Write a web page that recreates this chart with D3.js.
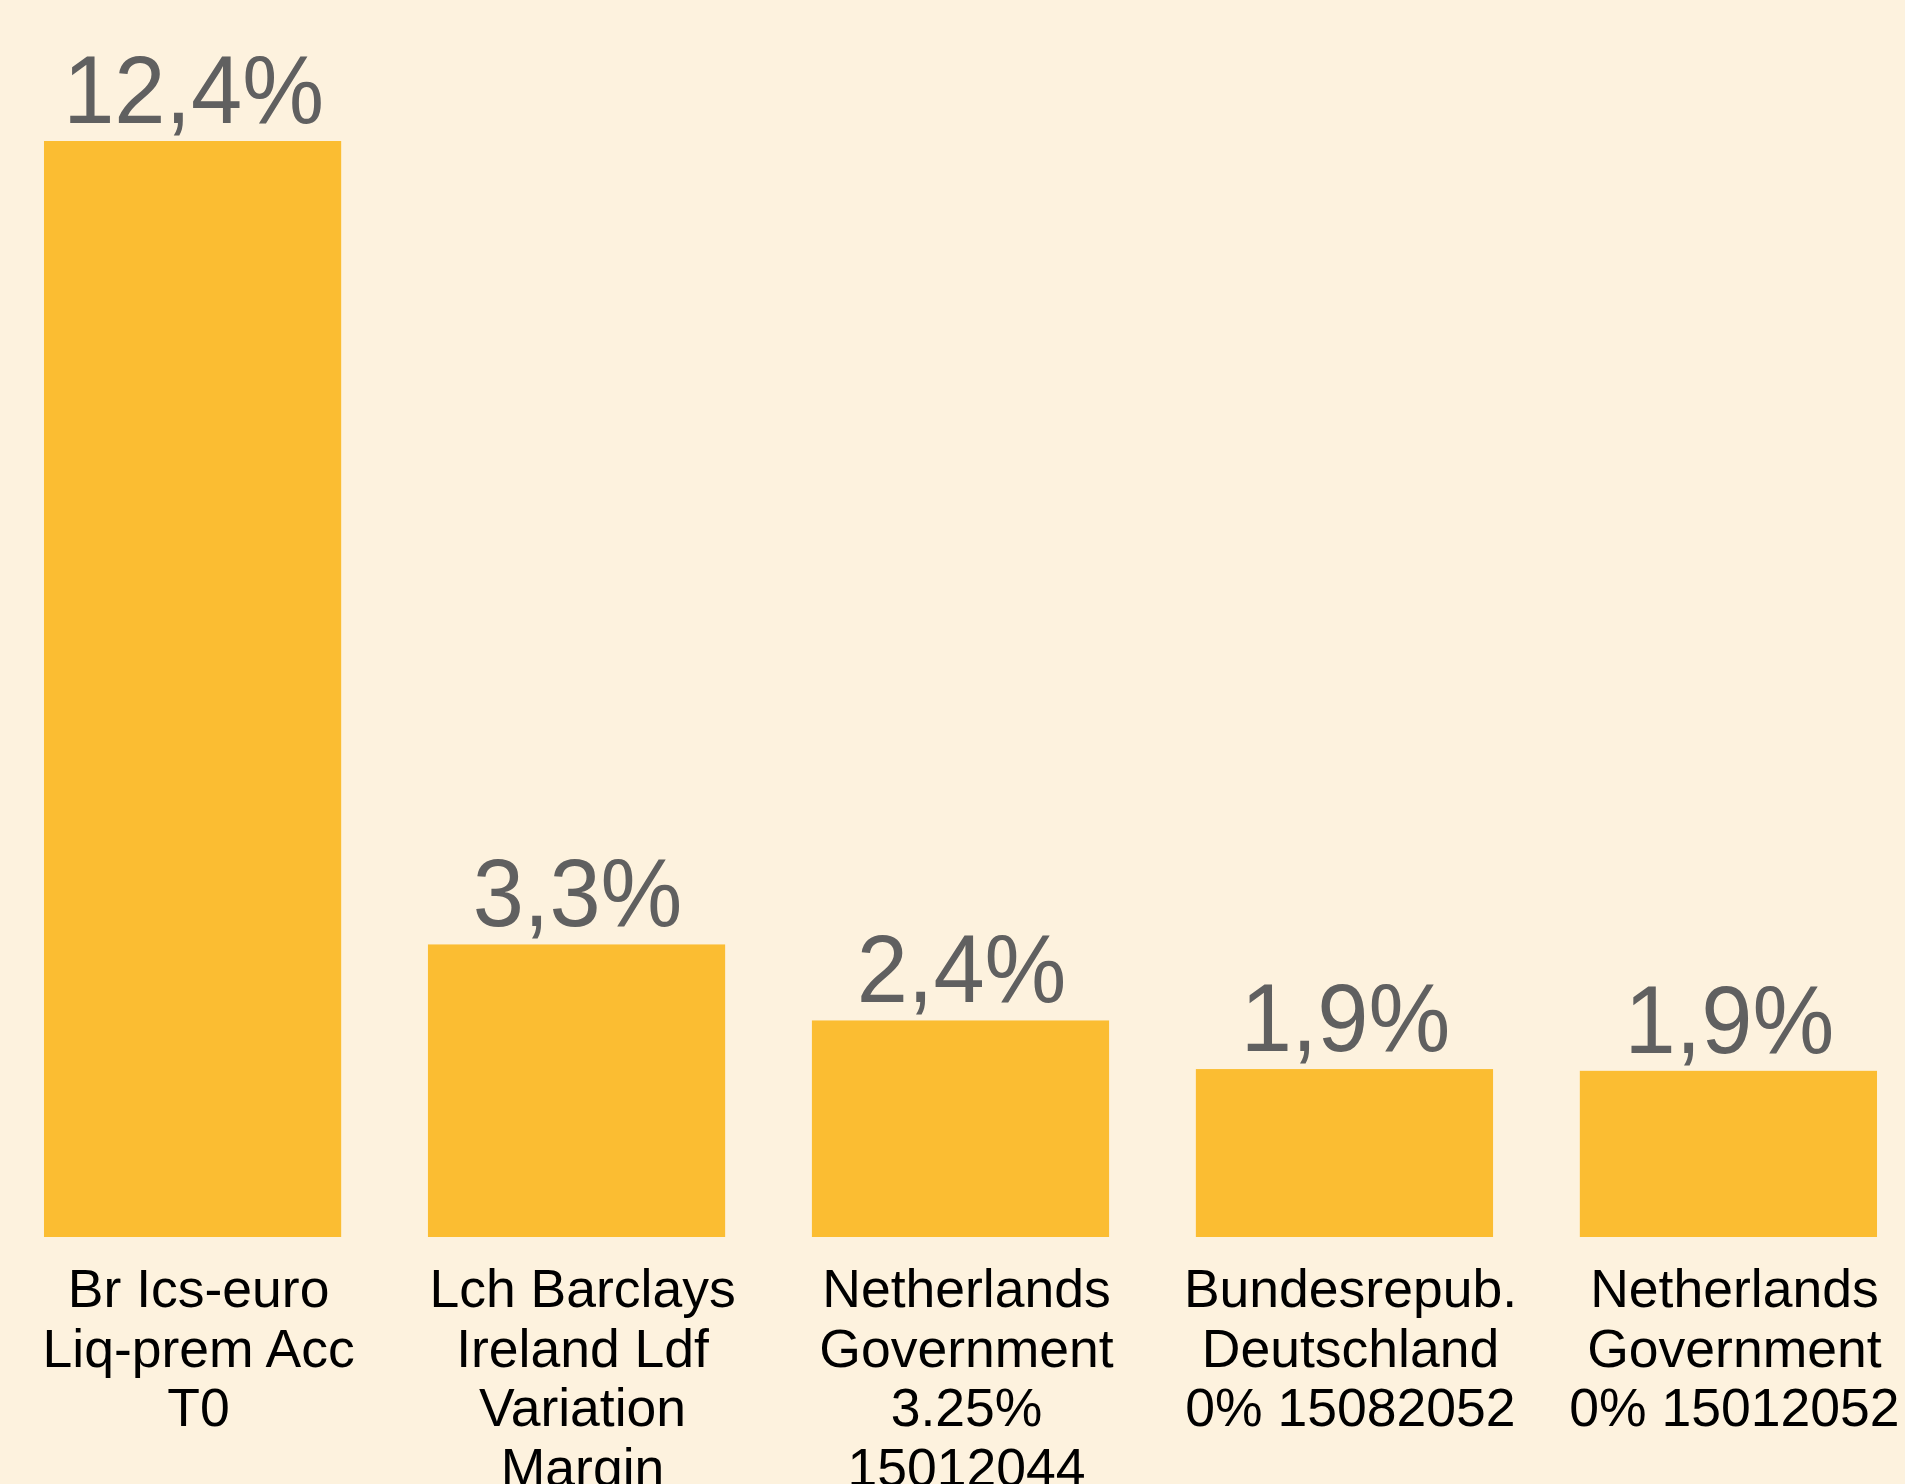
<!DOCTYPE html>
<html>
<head>
<meta charset="utf-8">
<script src="https://cdn.jsdelivr.net/npm/d3@7/dist/d3.min.js"></script>
<style>
html,body{margin:0;padding:0;background:#FDF2DE;}
svg{display:block;}
</style>
</head>
<body>
<svg id="chart" width="1905" height="1484"></svg>
<script>
// Data
const categories = [
  ["Br Ics-euro", "Liq-prem Acc", "T0"],
  ["Lch Barclays", "Ireland Ldf", "Variation", "Margin"],
  ["Netherlands", "Government", "3.25%", "15012044"],
  ["Bundesrepub.", "Deutschland", "0% 15082052"],
  ["Netherlands", "Government", "0% 15012052"]
];
const values = [12.4, 3.31, 2.45, 1.9, 1.88];
const valueLabels = ["12,4%", "3,3%", "2,4%", "1,9%", "1,9%"];

const W = 1905, H = 1484;
const svg = d3.select("#chart");
svg.append("rect").attr("width", W).attr("height", H).attr("fill", "#FDF2DE");

const idx = d3.range(values.length);
const x = d3.scaleBand().domain(idx).range([0.6, 1920.4]).paddingInner(0.226).paddingOuter(0.113);
const y = d3.scaleLinear().domain([0, 12.4]).range([1237, 141]);

const g = svg.append("g");
g.selectAll("rect.bar").data(idx).join("rect")
  .attr("class", "bar")
  .attr("x", i => x(i))
  .attr("width", x.bandwidth())
  .attr("y", i => y(values[i]))
  .attr("height", i => y(0) - y(values[i]))
  .attr("fill", "#FBBD32");

g.selectAll("text.val").data(idx).join("text")
  .attr("class", "val")
  .attr("transform", i => `translate(${x(i) + x.bandwidth() / 2 + 1},${y(values[i]) - 18}) scale(1,1.05)`)
  .attr("text-anchor", "middle")
  .attr("font-family", "'Liberation Sans', Arial, sans-serif")
  .attr("font-size", 92)
  .attr("fill", "#606060")
  .text(i => valueLabels[i]);

const cat = g.selectAll("g.cat").data(idx).join("g")
  .attr("class", "cat")
  .attr("transform", i => `translate(${x(i) + x.bandwidth() / 2 + 6},1307)`);
cat.selectAll("text").data(i => categories[i].map((t, k) => ({t, k}))).join("text")
  .attr("text-anchor", "middle")
  .attr("y", d => d.k * 59.5)
  .attr("font-family", "'Liberation Sans', Arial, sans-serif")
  .attr("font-size", 53.5)
  .attr("fill", "#000")
  .text(d => d.t);
</script>
</body>
</html>
